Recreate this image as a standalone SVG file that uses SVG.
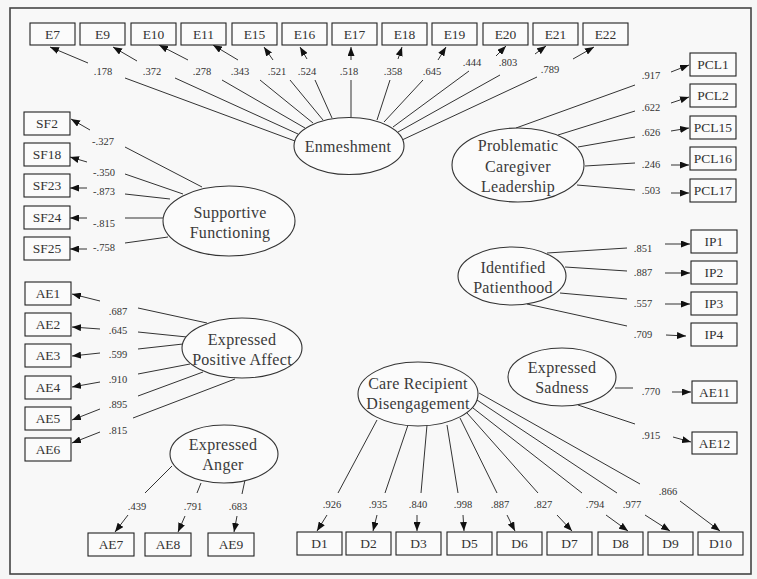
<svg xmlns="http://www.w3.org/2000/svg" width="757" height="579" viewBox="0 0 757 579">
<style>
.bx rect{fill:#fbfbfb;stroke:#222;stroke-width:1.1}
.bx text{font-family:"Liberation Serif",serif;font-size:13.5px;fill:#333;text-anchor:middle}
.lv ellipse{fill:#fbfbfb;stroke:#333;stroke-width:1.1}
.lv text{font-family:"Liberation Serif",serif;font-size:16px;fill:#3a3a3a;text-anchor:middle;letter-spacing:0.3px}
#connectors line{stroke:#333;stroke-width:1}
#connectors line.a{marker-end:url(#ah)}
#connectors text{font-family:"Liberation Serif",serif;font-size:10.5px;fill:#333;text-anchor:middle}
</style>
<defs>
<marker id="ah" markerUnits="userSpaceOnUse" markerWidth="9" markerHeight="7" refX="9" refY="3.5" orient="auto">
<path d="M0,0 L9,3.5 L0,7 Z" fill="#111"/>
</marker>
</defs>
<rect x="0" y="0" width="757" height="579" fill="#f6f6f6"/>
<rect x="10" y="8" width="741" height="566" fill="#f8f8f8" stroke="#444" stroke-width="1.6"/>

<g id="connectors">
<line x1="295" y1="141" x2="125" y2="78"/><text x="103" y="75">.178</text><line class="a" x1="88" y1="63" x2="50" y2="47"/>
<line x1="298" y1="134" x2="175" y2="78"/><text x="152" y="75">.372</text><line class="a" x1="137" y1="61" x2="113" y2="47"/>
<line x1="305" y1="128" x2="222" y2="80"/><text x="202" y="75">.278</text><line class="a" x1="188" y1="60" x2="159" y2="45"/>
<line x1="313" y1="123" x2="260" y2="80"/><text x="240" y="75">.343</text><line class="a" x1="238" y1="60" x2="213" y2="45"/>
<line x1="323" y1="120" x2="290" y2="80"/><text x="277" y="75">.521</text><line class="a" x1="273" y1="60" x2="264" y2="47"/>
<line x1="332" y1="118" x2="315" y2="80"/><text x="307" y="75">.524</text><line class="a" x1="307" y1="59" x2="300" y2="47"/>
<line x1="351" y1="117" x2="351" y2="80"/><text x="349" y="75">.518</text><line class="a" x1="351" y1="60" x2="351" y2="47"/>
<line x1="377" y1="120" x2="390" y2="80"/><text x="393" y="75">.358</text><line class="a" x1="398" y1="59" x2="402" y2="47"/>
<line x1="384" y1="122" x2="423" y2="80"/><text x="432" y="75">.645</text><line class="a" x1="438" y1="60" x2="446" y2="47"/>
<line x1="393" y1="127" x2="469" y2="71"/><text x="472" y="66">.444</text><line class="a" x1="496" y1="56" x2="506" y2="46"/>
<line x1="398" y1="132" x2="500" y2="75"/><text x="508" y="66">.803</text><line class="a" x1="535" y1="54" x2="546" y2="46"/>
<line x1="402" y1="140" x2="537" y2="77"/><text x="550" y="73">.789</text><line class="a" x1="573" y1="59" x2="594" y2="47"/>
<line x1="202" y1="187" x2="125" y2="147"/><text x="103" y="145">-.327</text><line class="a" x1="90" y1="130" x2="71" y2="119"/>
<line x1="183" y1="194" x2="125" y2="174"/><text x="104" y="176">-.350</text><line class="a" x1="87" y1="162" x2="70" y2="157"/>
<line x1="170" y1="199" x2="125" y2="194"/><text x="104" y="195">-.873</text><line class="a" x1="87" y1="188" x2="70" y2="188"/>
<line x1="163" y1="218" x2="125" y2="218"/><text x="104" y="227">-.815</text><line class="a" x1="87" y1="218" x2="70" y2="218"/>
<line x1="168" y1="237" x2="125" y2="243"/><text x="104" y="251">-.758</text><line class="a" x1="87" y1="249" x2="70" y2="249"/>
<line x1="207" y1="323" x2="138" y2="308"/><text x="118" y="315">.687</text><line class="a" x1="100" y1="301" x2="72" y2="294"/>
<line x1="187" y1="337" x2="138" y2="332"/><text x="118" y="334">.645</text><line class="a" x1="100" y1="329" x2="72" y2="327"/>
<line x1="183" y1="344" x2="138" y2="349"/><text x="118" y="358">.599</text><line class="a" x1="100" y1="353" x2="72" y2="356"/>
<line x1="190" y1="364" x2="138" y2="374"/><text x="118" y="383">.910</text><line class="a" x1="100" y1="382" x2="72" y2="387"/>
<line x1="203" y1="372" x2="138" y2="396"/><text x="118" y="408">.895</text><line class="a" x1="100" y1="409" x2="72" y2="420"/>
<line x1="235" y1="379" x2="133" y2="418"/><text x="118" y="434">.815</text><line class="a" x1="100" y1="432" x2="72" y2="443"/>
<line x1="172" y1="466" x2="145" y2="493"/><text x="137" y="510">.439</text><line class="a" x1="128" y1="515" x2="115" y2="532"/>
<line x1="201" y1="483" x2="197" y2="493"/><text x="193" y="510">.791</text><line class="a" x1="185" y1="516" x2="178" y2="532"/>
<line x1="245" y1="480" x2="242" y2="494"/><text x="238" y="510">.683</text><line class="a" x1="237" y1="516" x2="234" y2="532"/>
<line x1="377" y1="420" x2="338" y2="493"/><text x="332" y="508">.926</text><line class="a" x1="327" y1="515" x2="317" y2="531"/>
<line x1="408" y1="425" x2="385" y2="493"/><text x="378" y="508">.935</text><line class="a" x1="377" y1="515" x2="373" y2="531"/>
<line x1="427" y1="425" x2="421" y2="493"/><text x="418" y="508">.840</text><line class="a" x1="417" y1="515" x2="417" y2="531"/>
<line x1="447" y1="425" x2="458" y2="493"/><text x="463" y="508">.998</text><line class="a" x1="463" y1="515" x2="464" y2="531"/>
<line x1="460" y1="418" x2="497" y2="493"/><text x="500" y="508">.887</text><line class="a" x1="507" y1="515" x2="515" y2="531"/>
<line x1="467" y1="413" x2="538" y2="493"/><text x="543" y="508">.827</text><line class="a" x1="557" y1="515" x2="572" y2="531"/>
<line x1="473" y1="408" x2="582" y2="493"/><text x="595" y="508">.794</text><line class="a" x1="606" y1="515" x2="628" y2="531"/>
<line x1="477" y1="400" x2="617" y2="493"/><text x="632" y="508">.977</text><line class="a" x1="645" y1="515" x2="670" y2="531"/>
<line x1="479" y1="393" x2="640" y2="484"/><text x="668" y="495">.866</text><line class="a" x1="680" y1="501" x2="720" y2="531"/>
<line x1="615" y1="388" x2="633" y2="388"/><text x="651" y="395">.770</text><line class="a" x1="672" y1="392" x2="691" y2="392"/>
<line x1="578" y1="405" x2="635" y2="424"/><text x="651" y="439">.915</text><line class="a" x1="673" y1="437" x2="691" y2="442"/>
<line x1="547" y1="253" x2="627" y2="248"/><text x="643" y="252">.851</text><line class="a" x1="665" y1="244" x2="690" y2="244"/>
<line x1="565" y1="267" x2="627" y2="271"/><text x="643" y="276">.887</text><line class="a" x1="665" y1="273" x2="690" y2="273"/>
<line x1="560" y1="293" x2="627" y2="299"/><text x="643" y="307">.557</text><line class="a" x1="665" y1="304" x2="690" y2="304"/>
<line x1="527" y1="304" x2="627" y2="326"/><text x="643" y="338">.709</text><line class="a" x1="666" y1="335" x2="686" y2="336"/>
<line x1="516" y1="128" x2="635" y2="85"/><text x="651" y="79">.917</text><line class="a" x1="671" y1="72" x2="689" y2="65"/>
<line x1="558" y1="135" x2="635" y2="111"/><text x="651" y="111">.622</text><line class="a" x1="671" y1="103" x2="689" y2="97"/>
<line x1="578" y1="147" x2="635" y2="137"/><text x="651" y="136">.626</text><line class="a" x1="671" y1="131" x2="689" y2="128"/>
<line x1="585" y1="166" x2="635" y2="163"/><text x="651" y="168">.246</text><line class="a" x1="671" y1="165" x2="689" y2="165"/>
<line x1="577" y1="185" x2="635" y2="190"/><text x="651" y="194">.503</text><line class="a" x1="671" y1="193" x2="689" y2="193"/>
</g>

<g class="lv">
<g id="enmeshment"><ellipse cx="349" cy="146" rx="55" ry="28.5"/><text x="348" y="152">Enmeshment</text></g>
<g id="supportive-functioning"><ellipse cx="229" cy="221" rx="66" ry="35"/><text x="230" y="218">Supportive</text><text x="230" y="238">Functioning</text></g>
<g id="expressed-positive-affect"><ellipse cx="242" cy="348" rx="60" ry="30"/><text x="242" y="345">Expressed</text><text x="242" y="365">Positive Affect</text></g>
<g id="expressed-anger"><ellipse cx="224" cy="454" rx="54" ry="29"/><text x="223" y="450">Expressed</text><text x="223" y="470">Anger</text></g>
<g id="care-recipient-disengagement"><ellipse cx="418" cy="394" rx="60" ry="32"/><text x="418" y="389">Care Recipient</text><text x="418" y="409">Disengagement</text></g>
<g id="expressed-sadness"><ellipse cx="562" cy="377" rx="54" ry="29"/><text x="562" y="373">Expressed</text><text x="562" y="393">Sadness</text></g>
<g id="identified-patienthood"><ellipse cx="512" cy="276" rx="54" ry="29"/><text x="513" y="273">Identified</text><text x="513" y="293">Patienthood</text></g>
<g id="problematic-caregiver-leadership"><ellipse cx="518" cy="165" rx="66" ry="37"/><text x="518" y="151">Problematic</text><text x="518" y="172">Caregiver</text><text x="518" y="192">Leadership</text></g>
</g>

<g class="bx">
<g id="E7"><rect x="30" y="23" width="45" height="22"/><text x="52.5" y="38.5">E7</text></g>
<g id="E9"><rect x="80" y="23" width="45" height="22"/><text x="102.5" y="38.5">E9</text></g>
<g id="E10"><rect x="131" y="23" width="45" height="22"/><text x="153.5" y="38.5">E10</text></g>
<g id="E11"><rect x="181" y="23" width="45" height="22"/><text x="203.5" y="38.5">E11</text></g>
<g id="E15"><rect x="232" y="23" width="45" height="22"/><text x="254.5" y="38.5">E15</text></g>
<g id="E16"><rect x="282" y="23" width="45" height="22"/><text x="304.5" y="38.5">E16</text></g>
<g id="E17"><rect x="332" y="23" width="45" height="22"/><text x="354.5" y="38.5">E17</text></g>
<g id="E18"><rect x="382" y="23" width="45" height="22"/><text x="404.5" y="38.5">E18</text></g>
<g id="E19"><rect x="432" y="23" width="45" height="22"/><text x="454.5" y="38.5">E19</text></g>
<g id="E20"><rect x="483" y="23" width="45" height="22"/><text x="505.5" y="38.5">E20</text></g>
<g id="E21"><rect x="533" y="23" width="45" height="22"/><text x="555.5" y="38.5">E21</text></g>
<g id="E22"><rect x="583" y="23" width="45" height="22"/><text x="605.5" y="38.5">E22</text></g>
<g id="SF2"><rect x="24" y="112" width="46" height="23"/><text x="47" y="128">SF2</text></g>
<g id="SF18"><rect x="24" y="143" width="46" height="23"/><text x="47" y="159">SF18</text></g>
<g id="SF23"><rect x="24" y="174" width="46" height="23"/><text x="47" y="190">SF23</text></g>
<g id="SF24"><rect x="24" y="206" width="46" height="23"/><text x="47" y="222">SF24</text></g>
<g id="SF25"><rect x="24" y="237" width="46" height="23"/><text x="47" y="253">SF25</text></g>
<g id="AE1"><rect x="25" y="282" width="46" height="23"/><text x="48" y="298">AE1</text></g>
<g id="AE2"><rect x="25" y="313" width="46" height="23"/><text x="48" y="329">AE2</text></g>
<g id="AE3"><rect x="25" y="344" width="46" height="23"/><text x="48" y="360">AE3</text></g>
<g id="AE4"><rect x="25" y="376" width="46" height="23"/><text x="48" y="392">AE4</text></g>
<g id="AE5"><rect x="25" y="407" width="46" height="23"/><text x="48" y="423">AE5</text></g>
<g id="AE6"><rect x="25" y="438" width="46" height="23"/><text x="48" y="454">AE6</text></g>
<g id="AE7"><rect x="88" y="533" width="46" height="23"/><text x="111" y="549">AE7</text></g>
<g id="AE8"><rect x="145" y="533" width="46" height="23"/><text x="168" y="549">AE8</text></g>
<g id="AE9"><rect x="208" y="533" width="46" height="23"/><text x="231" y="549">AE9</text></g>
<g id="D1"><rect x="297" y="532" width="45" height="23"/><text x="319.5" y="548">D1</text></g>
<g id="D2"><rect x="346" y="532" width="45" height="23"/><text x="368.5" y="548">D2</text></g>
<g id="D3"><rect x="396" y="532" width="45" height="23"/><text x="418.5" y="548">D3</text></g>
<g id="D5"><rect x="447" y="532" width="45" height="23"/><text x="469.5" y="548">D5</text></g>
<g id="D6"><rect x="497" y="532" width="45" height="23"/><text x="519.5" y="548">D6</text></g>
<g id="D7"><rect x="547" y="532" width="45" height="23"/><text x="569.5" y="548">D7</text></g>
<g id="D8"><rect x="598" y="532" width="45" height="23"/><text x="620.5" y="548">D8</text></g>
<g id="D9"><rect x="648" y="532" width="45" height="23"/><text x="670.5" y="548">D9</text></g>
<g id="D10"><rect x="698" y="532" width="45" height="23"/><text x="720.5" y="548">D10</text></g>
<g id="AE11"><rect x="692" y="381" width="45" height="22"/><text x="714.5" y="396.5">AE11</text></g>
<g id="AE12"><rect x="692" y="432" width="45" height="22"/><text x="714.5" y="447.5">AE12</text></g>
<g id="IP1"><rect x="691" y="230" width="46" height="23"/><text x="714" y="246">IP1</text></g>
<g id="IP2"><rect x="691" y="261" width="46" height="23"/><text x="714" y="277">IP2</text></g>
<g id="IP3"><rect x="691" y="292" width="46" height="23"/><text x="714" y="308">IP3</text></g>
<g id="IP4"><rect x="691" y="323" width="46" height="23"/><text x="714" y="339">IP4</text></g>
<g id="PCL1"><rect x="690" y="53" width="46" height="23"/><text x="713" y="69">PCL1</text></g>
<g id="PCL2"><rect x="690" y="84" width="46" height="23"/><text x="713" y="100">PCL2</text></g>
<g id="PCL15"><rect x="690" y="116" width="46" height="23"/><text x="713" y="132">PCL15</text></g>
<g id="PCL16"><rect x="690" y="147" width="46" height="23"/><text x="713" y="163">PCL16</text></g>
<g id="PCL17"><rect x="690" y="179" width="46" height="23"/><text x="713" y="195">PCL17</text></g>
</g>
</svg>
